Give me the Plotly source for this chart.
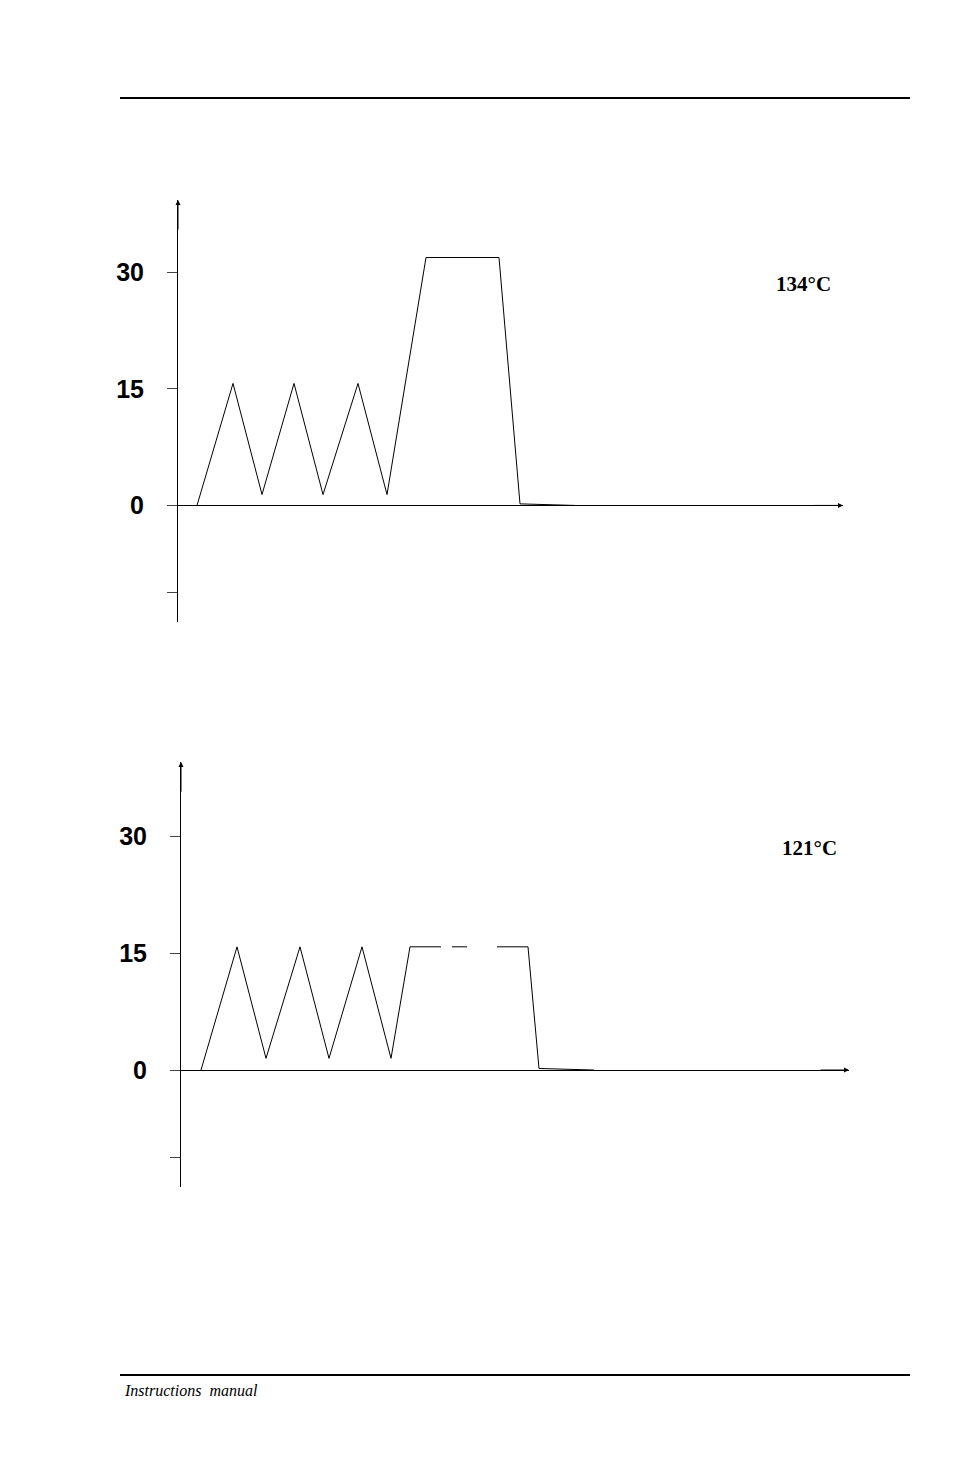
import plotly.graph_objects as go

W, H = 954, 1475
OFF = 8  # page margin offset in the viewer
# chart 1 (134°C)
t1 = [19, 55, 84, 116, 145, 180, 209, 248, 321, 342, 397]
p1 = [0, 15.7, 1.4, 15.7, 1.4, 15.7, 1.4, 31.9, 31.9, 0.2, 0]
# chart 2 (121°C)
t2 = [20, 56, 85, 119, 148, 181, 210, 229]
p2 = [0, 15.8, 1.5, 15.8, 1.5, 15.8, 1.5, 15.8]
t2_plateau = [[229, 260], [271, 286], [316, 347]]
t2_tail = [347, 358, 413]
p2_tail = [15.8, 0.2, 0]
tickvals = [-11.2, 0, 15, 30]
ticktext = ["", "0", "15", "30"]
labels = ["134°C", "121°C"]

fig = go.Figure()
ln = dict(color="black", width=1)
fig.add_trace(go.Scatter(x=t1, y=p1, mode="lines", line=ln, xaxis="x", yaxis="y"))
fig.add_trace(go.Scatter(x=t2, y=p2, mode="lines", line=ln, xaxis="x2", yaxis="y2"))
for seg in t2_plateau:
    fig.add_trace(go.Scatter(x=seg, y=[15.8, 15.8], mode="lines", line=ln, xaxis="x2", yaxis="y2"))
fig.add_trace(go.Scatter(x=t2_tail, y=p2_tail, mode="lines", line=ln, xaxis="x2", yaxis="y2"))

def px(v): return (v - OFF) / W
def py(v): return 1 - (v - OFF) / H

ya = dict(range=[-15, 39.3], tickvals=tickvals, ticktext=ticktext, ticks="outside", ticklen=10,
          showline=True, linecolor="black", linewidth=1, showgrid=False, zeroline=True,
          zerolinecolor="black", zerolinewidth=1, ticklabelstandoff=18,
          tickfont=dict(family="Liberation Sans", size=25, color="black"))
xa = dict(range=[0, 665], visible=False, showgrid=False, zeroline=False)
fig.update_layout(
    width=W, height=H, margin=dict(l=0, r=0, t=0, b=0), showlegend=False,
    plot_bgcolor="white", paper_bgcolor="white",
    xaxis=dict(xa, domain=[px(178), px(843)], anchor="y"),
    yaxis=dict(ya, domain=[py(622), py(200)], anchor="x"),
    xaxis2=dict(xa, range=[0, 668], domain=[px(181), px(849)], anchor="y2"),
    yaxis2=dict(ya, range=[-15, 39.5], domain=[py(1187), py(762)], anchor="x2"),
)
fig.update_layout(yaxis_tickfont_weight="bold", yaxis2_tickfont_weight="bold")
for i, (xr, yr) in enumerate([("x", "y"), ("x2", "y2")]):
    xmax = 665 if i == 0 else 668
    ymax = 39.3 if i == 0 else 39.5
    fig.add_annotation(x=0, y=ymax, ax=0, ay=ymax - 4, xref=xr, yref=yr, axref=xr, ayref=yr,
                       showarrow=True, arrowhead=2, arrowsize=1, arrowwidth=1, arrowcolor="black", text="")
    fig.add_annotation(x=xmax, y=0, ax=xmax - 30, ay=0, xref=xr, yref=yr, axref=xr, ayref=yr,
                       showarrow=True, arrowhead=2, arrowsize=1, arrowwidth=1, arrowcolor="black", text="")
    fig.add_annotation(x=625 if i == 0 else 628, y=28.5, xref=xr, yref=yr, text=labels[i], showarrow=False,
                       font=dict(family="Liberation Serif", size=21, color="black", weight="bold"))
fig.add_shape(type="line", xref="paper", yref="paper", x0=px(120), x1=px(910), y0=py(98), y1=py(98),
              line=dict(color="black", width=2))
fig.add_shape(type="line", xref="paper", yref="paper", x0=px(120), x1=px(910), y0=py(1375), y1=py(1375),
              line=dict(color="black", width=2))
fig.add_annotation(xref="paper", yref="paper", x=px(122), y=py(1390), xanchor="left", yanchor="middle",
                   text="<i>Instructions  manual</i>", showarrow=False,
                   font=dict(family="Liberation Serif", size=16, color="black"))
fig.write_html("out.html")
